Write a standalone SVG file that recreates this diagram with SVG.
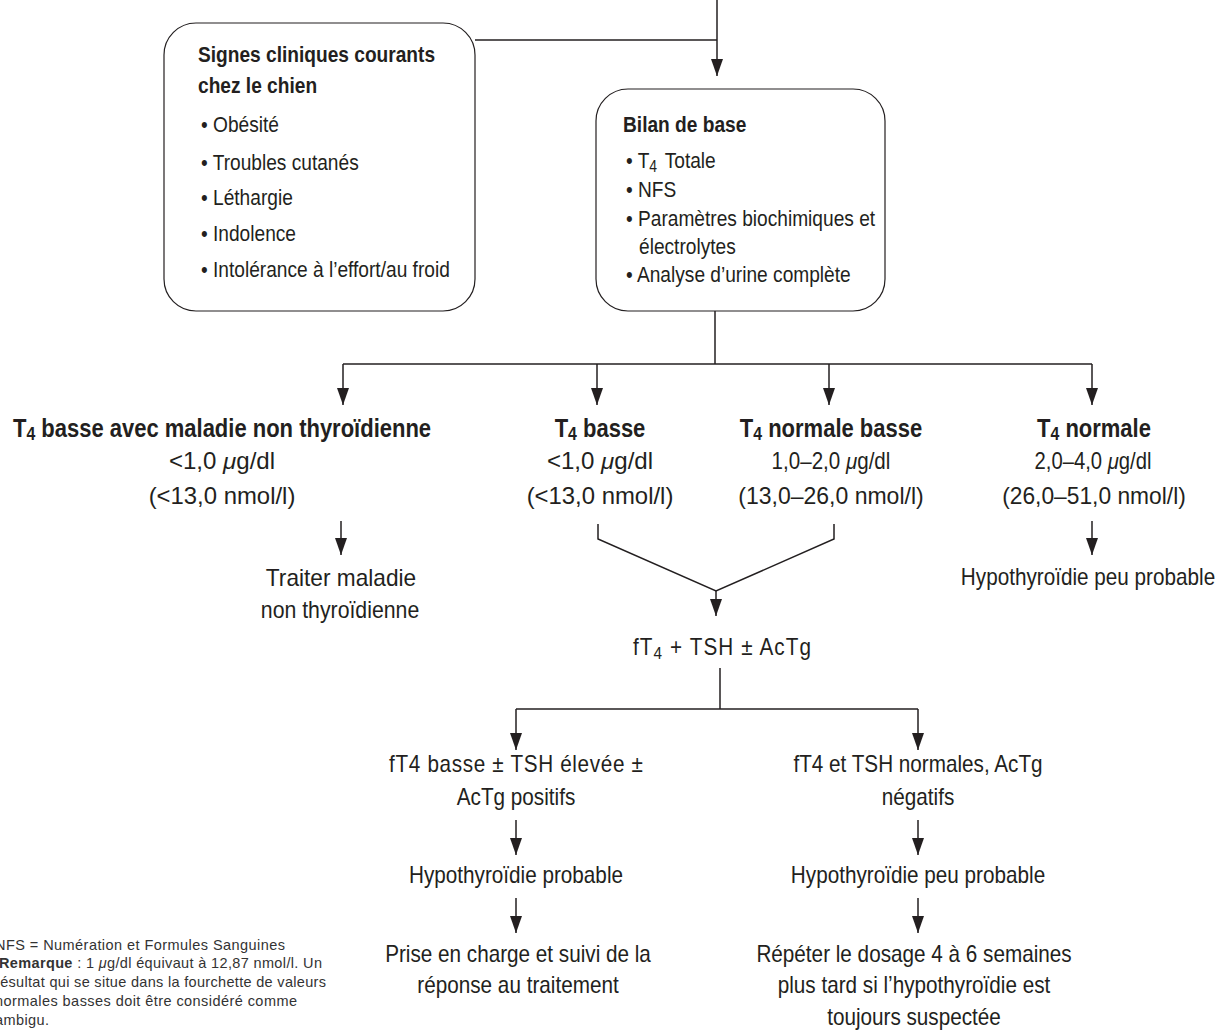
<svg xmlns="http://www.w3.org/2000/svg" width="1228" height="1033" viewBox="0 0 1228 1033">
<style>
  text{font-family:"Liberation Sans",Arial,sans-serif;fill:#231f20;}
  .t{font-size:22px;}
  .b{font-size:22px;font-weight:bold;}
  .h{font-size:25px;font-weight:bold;text-anchor:middle;}
  .m{font-size:23px;text-anchor:middle;}
  .n{font-size:14.5px;fill:#333;}
  .box{fill:#fff;stroke:#231f20;stroke-width:1.2;}
  .c{fill:none;stroke:#231f20;stroke-width:1.5;}
</style>
<defs>
  <marker id="ad" markerWidth="12" markerHeight="17" refX="6" refY="17" markerUnits="userSpaceOnUse" viewBox="0 0 12 17">
    <path d="M0,0 L12,0 L6,17 Z" fill="#231f20"/>
  </marker>
</defs>
<rect width="1228" height="1033" fill="#fff"/>

<g id="connectors">
  <path class="c" d="M475,40 H717"/>
  <path class="c" d="M717,0 V76" marker-end="url(#ad)"/>
  <path class="c" d="M715,311 V364"/>
  <path class="c" d="M343,364 H1092"/>
  <path class="c" d="M343,364 V405" marker-end="url(#ad)"/>
  <path class="c" d="M597,364 V405" marker-end="url(#ad)"/>
  <path class="c" d="M829,364 V405" marker-end="url(#ad)"/>
  <path class="c" d="M1092,364 V405" marker-end="url(#ad)"/>
  <path class="c" d="M341,521 V555" marker-end="url(#ad)"/>
  <path class="c" d="M1092,521 V555" marker-end="url(#ad)"/>
  <path class="c" d="M598,524 V539 L716,591 L834,539 V524"/>
  <path class="c" d="M716,591 V616" marker-end="url(#ad)"/>
  <path class="c" d="M720,668 V709"/>
  <path class="c" d="M516,709 H918"/>
  <path class="c" d="M516,709 V750" marker-end="url(#ad)"/>
  <path class="c" d="M918,709 V750" marker-end="url(#ad)"/>
  <path class="c" d="M516,820 V855" marker-end="url(#ad)"/>
  <path class="c" d="M918,820 V855" marker-end="url(#ad)"/>
  <path class="c" d="M516,898 V933" marker-end="url(#ad)"/>
  <path class="c" d="M918,898 V933" marker-end="url(#ad)"/>
</g>

<g id="signes">
  <rect class="box" x="164" y="23" width="311" height="288" rx="32"/>
  <text class="b" transform="translate(198,62) scale(.87,1)">Signes cliniques courants</text>
  <text class="b" transform="translate(198,93) scale(.87,1)">chez le chien</text>
  <text class="t" transform="translate(201,132) scale(.87,1)">• Obésité</text>
  <text class="t" transform="translate(201,170) scale(.87,1)">• Troubles cutanés</text>
  <text class="t" transform="translate(201,205) scale(.87,1)">• Léthargie</text>
  <text class="t" transform="translate(201,241) scale(.87,1)">• Indolence</text>
  <text class="t" transform="translate(201,277) scale(.87,1)">• Intolérance à l’effort/au froid</text>
</g>

<g id="bilan">
  <rect class="box" x="596" y="89" width="289" height="222" rx="32"/>
  <text class="b" transform="translate(623,132) scale(.87,1)">Bilan de base</text>
  <text class="t" transform="translate(626,168) scale(.87,1)">• T<tspan font-size="16" dy="4">4</tspan><tspan dy="-4" dx="3"> Totale</tspan></text>
  <text class="t" transform="translate(626,197) scale(.87,1)">• NFS</text>
  <text class="t" transform="translate(626,226) scale(.87,1)">• Paramètres biochimiques et</text>
  <text class="t" transform="translate(639,254) scale(.87,1)">électrolytes</text>
  <text class="t" transform="translate(626,282) scale(.87,1)">• Analyse d’urine complète</text>
</g>

<g id="t4-basse-mnt">
  <text class="h" transform="translate(222,437) scale(.88,1)">T<tspan font-size="18" dy="3">4</tspan><tspan dy="-3"> basse avec maladie non thyroïdienne</tspan></text>
  <text class="m" transform="translate(222,469) scale(.9,1)" textLength="118" lengthAdjust="spacingAndGlyphs">&lt;1,0 <tspan font-style="italic">μ</tspan>g/dl</text>
  <text class="m" transform="translate(222,504) scale(.9,1)" textLength="163" lengthAdjust="spacingAndGlyphs">(&lt;13,0 nmol/l)</text>
</g>

<g id="t4-basse">
  <text class="h" transform="translate(600,437) scale(.88,1)">T<tspan font-size="18" dy="3">4</tspan><tspan dy="-3"> basse</tspan></text>
  <text class="m" transform="translate(600,469) scale(.9,1)" textLength="118" lengthAdjust="spacingAndGlyphs">&lt;1,0 <tspan font-style="italic">μ</tspan>g/dl</text>
  <text class="m" transform="translate(600,504) scale(.9,1)" textLength="163" lengthAdjust="spacingAndGlyphs">(&lt;13,0 nmol/l)</text>
</g>

<g id="t4-normale-basse">
  <text class="h" transform="translate(831,437) scale(.88,1)">T<tspan font-size="18" dy="3">4</tspan><tspan dy="-3"> normale basse</tspan></text>
  <text class="m" transform="translate(831,469) scale(.9,1)" textLength="132" lengthAdjust="spacingAndGlyphs">1,0–2,0 <tspan font-style="italic">μ</tspan>g/dl</text>
  <text class="m" transform="translate(831,504) scale(.9,1)" textLength="206" lengthAdjust="spacingAndGlyphs">(13,0–26,0 nmol/l)</text>
</g>

<g id="t4-normale">
  <text class="h" transform="translate(1094,437) scale(.88,1)">T<tspan font-size="18" dy="3">4</tspan><tspan dy="-3"> normale</tspan></text>
  <text class="m" transform="translate(1093,469) scale(.9,1)" textLength="130" lengthAdjust="spacingAndGlyphs">2,0–4,0 <tspan font-style="italic">μ</tspan>g/dl</text>
  <text class="m" transform="translate(1094,504) scale(.9,1)" textLength="204" lengthAdjust="spacingAndGlyphs">(26,0–51,0 nmol/l)</text>
</g>

<g id="traiter">
  <text class="m" transform="translate(341,586) scale(.9,1)" textLength="167" lengthAdjust="spacingAndGlyphs">Traiter maladie</text>
  <text class="m" transform="translate(340,618) scale(.9,1)" textLength="176" lengthAdjust="spacingAndGlyphs">non thyroïdienne</text>
</g>

<g id="peu-probable-1">
  <text class="m" transform="translate(1088,585) scale(.9,1)">Hypothyroïdie peu probable</text>
</g>

<g id="ft4-tsh">
  <text class="m" transform="translate(722,655) scale(.9,1)" textLength="198">fT<tspan font-size="17" dy="4">4</tspan><tspan dy="-4"> + TSH ± AcTg</tspan></text>
</g>

<g id="ft4-basse">
  <text class="m" transform="translate(516,772) scale(.9,1)" textLength="282">fT4 basse ± TSH élevée ±</text>
  <text class="m" transform="translate(516,805) scale(.9,1)">AcTg positifs</text>
</g>

<g id="ft4-normales">
  <text class="m" transform="translate(918,772) scale(.9,1)">fT4 et TSH normales, AcTg</text>
  <text class="m" transform="translate(918,805) scale(.9,1)">négatifs</text>
</g>

<g id="probable">
  <text class="m" transform="translate(516,883) scale(.9,1)">Hypothyroïdie probable</text>
</g>

<g id="peu-probable-2">
  <text class="m" transform="translate(918,883) scale(.9,1)">Hypothyroïdie peu probable</text>
</g>

<g id="prise-en-charge">
  <text class="m" transform="translate(518,962) scale(.9,1)">Prise en charge et suivi de la</text>
  <text class="m" transform="translate(518,993) scale(.9,1)">réponse au traitement</text>
</g>

<g id="repeter">
  <text class="m" transform="translate(914,962) scale(.9,1)">Répéter le dosage 4 à 6 semaines</text>
  <text class="m" transform="translate(914,993) scale(.9,1)">plus tard si l’hypothyroïdie est</text>
  <text class="m" transform="translate(914,1025) scale(.9,1)">toujours suspectée</text>
</g>

<g id="note">
  <text class="n" x="-5" y="950" textLength="290">NFS = Numération et Formules Sanguines</text>
  <text class="n" x="-1" y="968" textLength="323"><tspan font-weight="bold">Remarque</tspan> : 1 <tspan font-style="italic">μ</tspan>g/dl équivaut à 12,87 nmol/l. Un</text>
  <text class="n" x="-5" y="987" textLength="331">résultat qui se situe dans la fourchette de valeurs</text>
  <text class="n" x="-5" y="1006" textLength="302">normales basses doit être considéré comme</text>
  <text class="n" x="-5" y="1025" textLength="54">ambigu.</text>
</g>
</svg>
